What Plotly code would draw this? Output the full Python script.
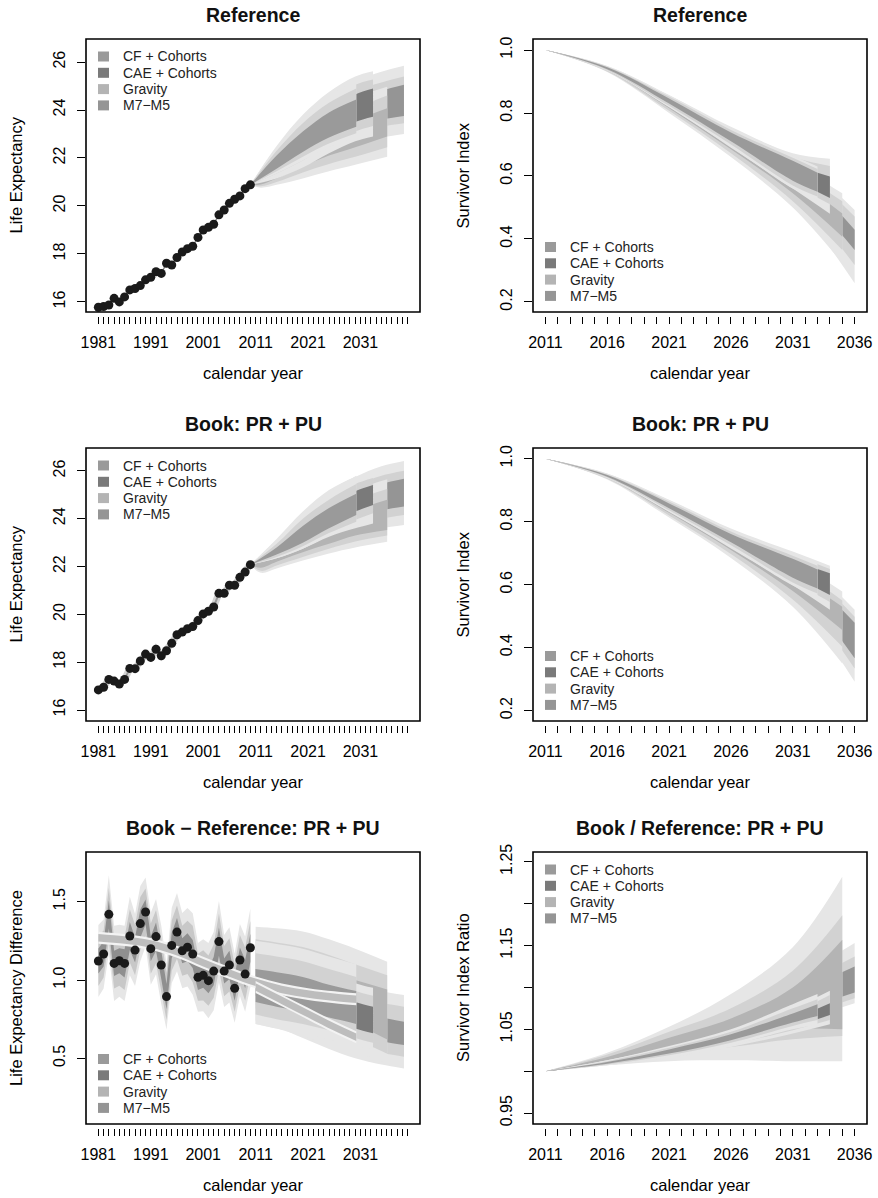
import plotly.graph_objects as go

W, H = 878, 1198
FONT = "Liberation Sans, Arial, Helvetica, sans-serif"
OUTER = "#e6e6e6"
MID = "#d2d2d2"

# ---------------- data ----------------
models = ["CF + Cohorts", "CAE + Cohorts", "Gravity", "M7\u2212M5"]
model_colors = ["#9a9a9a", "#7a7a7a", "#b4b4b4", "#959595"]

obs_year = list(range(1981, 2011))
ref_le_obs = [15.78, 15.81, 15.87, 16.15, 16.00, 16.21, 16.50, 16.56, 16.68, 16.92,
              17.03, 17.26, 17.19, 17.61, 17.54, 17.85, 18.08, 18.22, 18.32, 18.69,
              19.00, 19.11, 19.24, 19.63, 19.83, 20.11, 20.28, 20.42, 20.72, 20.88]
book_le_obs = [16.84, 16.95, 17.28, 17.21, 17.09, 17.28, 17.74, 17.73, 18.05, 18.34,
               18.20, 18.54, 18.27, 18.48, 18.79, 19.15, 19.26, 19.40, 19.49, 19.74,
               20.02, 20.13, 20.31, 20.88, 20.88, 21.22, 21.22, 21.55, 21.77, 22.08]
diff_le_obs = [1.121, 1.166, 1.419, 1.106, 1.123, 1.106, 1.281, 1.191, 1.360, 1.434,
               1.200, 1.277, 1.096, 0.894, 1.221, 1.306, 1.187, 1.209, 1.166, 1.017,
               1.030, 0.996, 1.057, 1.245, 1.057, 1.096, 0.947, 1.128, 1.038, 1.206]
# historical uncertainty half-widths of the difference
diff_hw95 = [0.23, 0.22, 0.25, 0.24, 0.23, 0.24, 0.25, 0.23, 0.24, 0.22,
             0.23, 0.24, 0.25, 0.21, 0.24, 0.25, 0.24, 0.25, 0.26, 0.22,
             0.23, 0.24, 0.25, 0.26, 0.23, 0.24, 0.22, 0.23, 0.24, 0.25]
diff_hw80 = [0.16, 0.15, 0.17, 0.16, 0.16, 0.17, 0.17, 0.16, 0.17, 0.15,
             0.16, 0.17, 0.17, 0.15, 0.16, 0.17, 0.16, 0.17, 0.18, 0.15,
             0.16, 0.16, 0.17, 0.18, 0.16, 0.17, 0.15, 0.16, 0.17, 0.17]
diff_hw50 = [0.08, 0.08, 0.09, 0.08, 0.08, 0.09, 0.09, 0.08, 0.09, 0.08,
             0.08, 0.09, 0.09, 0.08, 0.08, 0.09, 0.08, 0.09, 0.09, 0.08,
             0.08, 0.08, 0.09, 0.09, 0.08, 0.09, 0.08, 0.08, 0.09, 0.09]
trend_u_year = [1981, 1986, 1991, 1996, 2001, 2006, 2011, 2016, 2021, 2026, 2030.2]
trend_u_mid = [1.27, 1.255, 1.23, 1.18, 1.11, 1.045, 0.985, 0.94, 0.91, 0.89, 0.877]
trend_l_year = [2011, 2016, 2021, 2026, 2030.2]
trend_l_mid = [0.955, 0.87, 0.785, 0.70, 0.635]

# ---- Reference life expectancy fans ----
ref_le_m7 = dict(year=[2010, 2015, 2020, 2025, 2030, 2035, 2039.3],
                 lo95=[20.88, 21.2, 21.6, 22.1, 22.6, 22.85, 23.0],
                 lo80=[20.88, 21.4, 21.9, 22.5, 23.0, 23.3, 23.45],
                 lo50=[20.88, 21.6, 22.2, 22.85, 23.35, 23.6, 23.75],
                 hi50=[20.88, 22.1, 23.05, 23.85, 24.45, 24.8, 25.05],
                 hi80=[20.88, 22.3, 23.4, 24.2, 24.8, 25.15, 25.4],
                 hi95=[20.88, 22.45, 23.7, 24.6, 25.2, 25.6, 25.85])
ref_le_grav = dict(year=[2010, 2012, 2015, 2020, 2025, 2030, 2036.1],
                   lo95=[20.88, 20.76, 20.88, 21.15, 21.45, 21.72, 22.05],
                   lo80=[20.88, 20.82, 21.0, 21.4, 21.75, 22.05, 22.45],
                   lo50=[20.88, 20.9, 21.15, 21.65, 22.1, 22.45, 22.9],
                   hi50=[20.88, 21.2, 21.7, 22.4, 23.0, 23.55, 24.07],
                   hi80=[20.88, 21.3, 21.9, 22.75, 23.45, 24.05, 24.6],
                   hi95=[20.88, 21.4, 22.1, 23.05, 23.85, 24.5, 24.97])
ref_le_cae = dict(year=[2010, 2015, 2020, 2025, 2030, 2033.4],
                  lo95=[20.88, 21.15, 21.6, 22.2, 22.7, 22.9],
                  lo80=[20.88, 21.35, 21.9, 22.55, 23.1, 23.33],
                  lo50=[20.88, 21.55, 22.2, 22.95, 23.5, 23.72],
                  hi50=[20.88, 22.15, 23.2, 24.0, 24.65, 24.9],
                  hi80=[20.88, 22.35, 23.5, 24.4, 25.05, 25.27],
                  hi95=[20.88, 22.5, 23.8, 24.75, 25.4, 25.62])
ref_le_cf = dict(year=[2010, 2015, 2020, 2025, 2030.2],
                 lo95=[20.88, 21.35, 21.9, 22.45, 22.9],
                 lo80=[20.88, 21.45, 22.05, 22.6, 23.03],
                 lo50=[20.88, 21.55, 22.25, 22.85, 23.3],
                 hi50=[20.88, 22.1, 23.1, 23.9, 24.44],
                 hi80=[20.88, 22.3, 23.45, 24.3, 24.9],
                 hi95=[20.88, 22.45, 23.7, 24.6, 25.25])

# ---- Book life expectancy fans ----
book_le_m7 = dict(year=[2010, 2015, 2020, 2025, 2030, 2035, 2039.3],
                  lo95=[22.08, 22.3, 22.6, 23.0, 23.35, 23.6, 23.74],
                  lo80=[22.08, 22.4, 22.8, 23.3, 23.75, 24.0, 24.16],
                  lo50=[22.08, 22.5, 23.0, 23.6, 24.05, 24.35, 24.51],
                  hi50=[22.08, 22.8, 23.7, 24.5, 25.05, 25.45, 25.67],
                  hi80=[22.08, 22.95, 24.0, 24.85, 25.4, 25.8, 26.01],
                  hi95=[22.08, 23.1, 24.25, 25.15, 25.75, 26.2, 26.42])
book_le_grav = dict(year=[2010, 2012, 2015, 2020, 2025, 2030, 2036.1],
                    lo95=[22.08, 21.74, 21.92, 22.25, 22.55, 22.8, 23.04],
                    lo80=[22.08, 21.82, 22.05, 22.4, 22.75, 23.05, 23.3],
                    lo50=[22.08, 21.95, 22.2, 22.6, 22.95, 23.3, 23.53],
                    hi50=[22.08, 22.2, 22.55, 23.2, 23.85, 24.35, 24.79],
                    hi80=[22.08, 22.3, 22.8, 23.55, 24.25, 24.8, 25.25],
                    hi95=[22.08, 22.4, 22.95, 23.8, 24.6, 25.2, 25.65])
book_le_cae = dict(year=[2010, 2015, 2020, 2025, 2030, 2033.4],
                   lo95=[22.08, 22.35, 22.75, 23.25, 23.6, 23.8],
                   lo80=[22.08, 22.45, 22.95, 23.5, 23.95, 24.23],
                   lo50=[22.08, 22.55, 23.15, 23.75, 24.3, 24.58],
                   hi50=[22.08, 22.85, 23.8, 24.6, 25.15, 25.41],
                   hi80=[22.08, 23.0, 24.05, 24.9, 25.45, 25.7],
                   hi95=[22.08, 23.15, 24.3, 25.2, 25.75, 25.96])
book_le_cf = dict(year=[2010, 2015, 2020, 2025, 2030.2],
                  lo95=[22.08, 22.35, 22.75, 23.3, 23.75],
                  lo80=[22.08, 22.4, 22.85, 23.4, 23.88],
                  lo50=[22.08, 22.5, 23.0, 23.6, 24.16],
                  hi50=[22.08, 22.8, 23.7, 24.45, 25.05],
                  hi80=[22.08, 22.95, 24.0, 24.8, 25.45],
                  hi95=[22.08, 23.1, 24.2, 25.1, 25.8])

# ---- Reference survivor index fans ----
ref_si_m7 = dict(year=[2011, 2016, 2021, 2026, 2031, 2036],
                 lo95=[1.0, 0.932, 0.81, 0.675, 0.52, 0.259],
                 lo80=[1.0, 0.935, 0.818, 0.69, 0.55, 0.317],
                 lo50=[1.0, 0.938, 0.825, 0.70, 0.575, 0.365],
                 hi50=[1.0, 0.944, 0.843, 0.73, 0.625, 0.429],
                 hi80=[1.0, 0.946, 0.849, 0.742, 0.645, 0.471],
                 hi95=[1.0, 0.948, 0.853, 0.75, 0.66, 0.492])
ref_si_grav = dict(year=[2011, 2016, 2021, 2026, 2031, 2035],
                   lo95=[1.0, 0.93, 0.80, 0.66, 0.50, 0.323],
                   lo80=[1.0, 0.932, 0.807, 0.672, 0.52, 0.365],
                   lo50=[1.0, 0.935, 0.815, 0.685, 0.545, 0.407],
                   hi50=[1.0, 0.942, 0.835, 0.715, 0.595, 0.481],
                   hi80=[1.0, 0.945, 0.845, 0.73, 0.62, 0.52],
                   hi95=[1.0, 0.947, 0.85, 0.742, 0.64, 0.545])
ref_si_cae = dict(year=[2011, 2016, 2021, 2026, 2031, 2034],
                  lo95=[1.0, 0.935, 0.82, 0.69, 0.56, 0.48],
                  lo80=[1.0, 0.937, 0.825, 0.70, 0.575, 0.51],
                  lo50=[1.0, 0.939, 0.83, 0.71, 0.59, 0.53],
                  hi50=[1.0, 0.945, 0.847, 0.74, 0.64, 0.598],
                  hi80=[1.0, 0.947, 0.853, 0.75, 0.66, 0.632],
                  hi95=[1.0, 0.949, 0.857, 0.756, 0.672, 0.655])
ref_si_cf = dict(year=[2011, 2016, 2021, 2026, 2031, 2033],
                 lo95=[1.0, 0.934, 0.818, 0.693, 0.56, 0.525],
                 lo80=[1.0, 0.936, 0.823, 0.70, 0.57, 0.535],
                 lo50=[1.0, 0.939, 0.83, 0.71, 0.585, 0.55],
                 hi50=[1.0, 0.945, 0.846, 0.738, 0.648, 0.61],
                 hi80=[1.0, 0.947, 0.852, 0.746, 0.658, 0.622],
                 hi95=[1.0, 0.949, 0.856, 0.752, 0.665, 0.63])

# ---- Book survivor index fans ----
book_si_m7 = dict(year=[2011, 2016, 2021, 2026, 2031, 2036],
                  lo95=[1.0, 0.936, 0.826, 0.705, 0.56, 0.292],
                  lo80=[1.0, 0.938, 0.832, 0.715, 0.585, 0.334],
                  lo50=[1.0, 0.941, 0.838, 0.725, 0.605, 0.366],
                  hi50=[1.0, 0.948, 0.856, 0.755, 0.66, 0.479],
                  hi80=[1.0, 0.95, 0.862, 0.765, 0.68, 0.498],
                  hi95=[1.0, 0.952, 0.866, 0.772, 0.695, 0.52])
book_si_grav = dict(year=[2011, 2016, 2021, 2026, 2031, 2035],
                    lo95=[1.0, 0.934, 0.813, 0.685, 0.53, 0.35],
                    lo80=[1.0, 0.936, 0.82, 0.697, 0.553, 0.403],
                    lo50=[1.0, 0.939, 0.828, 0.71, 0.58, 0.456],
                    hi50=[1.0, 0.946, 0.848, 0.74, 0.632, 0.53],
                    hi80=[1.0, 0.949, 0.857, 0.753, 0.655, 0.55],
                    hi95=[1.0, 0.951, 0.862, 0.765, 0.675, 0.578])
book_si_cae = dict(year=[2011, 2016, 2021, 2026, 2031, 2034],
                   lo95=[1.0, 0.939, 0.833, 0.715, 0.598, 0.52],
                   lo80=[1.0, 0.941, 0.838, 0.725, 0.612, 0.545],
                   lo50=[1.0, 0.943, 0.843, 0.735, 0.628, 0.567],
                   hi50=[1.0, 0.949, 0.86, 0.763, 0.678, 0.636],
                   hi80=[1.0, 0.951, 0.866, 0.772, 0.695, 0.65],
                   hi95=[1.0, 0.953, 0.87, 0.778, 0.705, 0.66])
book_si_cf = dict(year=[2011, 2016, 2021, 2026, 2031, 2033],
                  lo95=[1.0, 0.938, 0.831, 0.718, 0.597, 0.562],
                  lo80=[1.0, 0.94, 0.836, 0.725, 0.607, 0.572],
                  lo50=[1.0, 0.943, 0.843, 0.735, 0.622, 0.588],
                  hi50=[1.0, 0.948, 0.858, 0.761, 0.682, 0.648],
                  hi80=[1.0, 0.95, 0.864, 0.769, 0.692, 0.66],
                  hi95=[1.0, 0.952, 0.868, 0.775, 0.70, 0.668])

# ---- Book - Reference life expectancy fans ----
diff_le_m7 = dict(year=[2011, 2015, 2020, 2025, 2030, 2035, 2039.3],
                  lo95=[0.74, 0.70, 0.63, 0.56, 0.50, 0.46, 0.436],
                  lo80=[0.82, 0.78, 0.71, 0.64, 0.58, 0.535, 0.51],
                  lo50=[0.90, 0.86, 0.79, 0.72, 0.66, 0.61, 0.585],
                  hi50=[1.04, 1.00, 0.93, 0.86, 0.80, 0.76, 0.734],
                  hi80=[1.12, 1.08, 1.02, 0.96, 0.90, 0.855, 0.83],
                  hi95=[1.20, 1.16, 1.10, 1.04, 0.98, 0.93, 0.904])
diff_le_grav = dict(year=[2011, 2015, 2020, 2025, 2030, 2036.1],
                    lo95=[0.72, 0.69, 0.64, 0.59, 0.54, 0.47],
                    lo80=[0.82, 0.78, 0.73, 0.68, 0.62, 0.53],
                    lo50=[0.92, 0.88, 0.83, 0.78, 0.72, 0.62],
                    hi50=[1.16, 1.14, 1.10, 1.05, 1.00, 0.94],
                    hi80=[1.26, 1.24, 1.21, 1.16, 1.10, 1.03],
                    hi95=[1.34, 1.33, 1.31, 1.26, 1.20, 1.117])
diff_le_cae = dict(year=[2011, 2015, 2020, 2025, 2030, 2033.4],
                   lo95=[0.78, 0.74, 0.69, 0.63, 0.58, 0.56],
                   lo80=[0.84, 0.80, 0.75, 0.69, 0.63, 0.60],
                   lo50=[0.90, 0.86, 0.81, 0.75, 0.69, 0.66],
                   hi50=[1.07, 1.03, 0.98, 0.92, 0.86, 0.83],
                   hi80=[1.14, 1.10, 1.05, 0.99, 0.93, 0.90],
                   hi95=[1.20, 1.15, 1.10, 1.04, 0.98, 0.95])
diff_le_cf = dict(year=[2011, 2015, 2020, 2025, 2030.2],
                  lo95=[0.72, 0.69, 0.66, 0.62, 0.58],
                  lo80=[0.78, 0.75, 0.72, 0.68, 0.64],
                  lo50=[0.86, 0.83, 0.80, 0.76, 0.72],
                  hi50=[1.07, 1.05, 1.02, 0.97, 0.93],
                  hi80=[1.17, 1.15, 1.12, 1.07, 1.02],
                  hi95=[1.25, 1.23, 1.20, 1.15, 1.10])

# ---- Book / Reference survivor index ratio fans ----
ratio_si_m7 = dict(year=[2011, 2016, 2021, 2026, 2031, 2036],
                   lo95=[1.0, 1.008, 1.02, 1.038, 1.058, 1.081],
                   lo80=[1.0, 1.01, 1.023, 1.042, 1.063, 1.087],
                   lo50=[1.0, 1.012, 1.027, 1.048, 1.07, 1.094],
                   hi50=[1.0, 1.016, 1.036, 1.062, 1.092, 1.125],
                   hi80=[1.0, 1.018, 1.04, 1.068, 1.10, 1.137],
                   hi95=[1.0, 1.02, 1.045, 1.075, 1.11, 1.153])
ratio_si_grav = dict(year=[2011, 2016, 2021, 2026, 2031, 2035],
                     lo95=[1.0, 1.007, 1.012, 1.013, 1.012, 1.012],
                     lo80=[1.0, 1.009, 1.02, 1.029, 1.038, 1.042],
                     lo50=[1.0, 1.012, 1.026, 1.037, 1.05, 1.05],
                     hi50=[1.0, 1.017, 1.04, 1.063, 1.10, 1.157],
                     hi80=[1.0, 1.02, 1.047, 1.075, 1.12, 1.186],
                     hi95=[1.0, 1.022, 1.053, 1.092, 1.148, 1.232])
ratio_si_cae = dict(year=[2011, 2016, 2021, 2026, 2031, 2034],
                    lo95=[1.0, 1.007, 1.016, 1.029, 1.045, 1.056],
                    lo80=[1.0, 1.008, 1.018, 1.032, 1.049, 1.061],
                    lo50=[1.0, 1.009, 1.02, 1.035, 1.053, 1.067],
                    hi50=[1.0, 1.011, 1.025, 1.042, 1.063, 1.081],
                    hi80=[1.0, 1.012, 1.027, 1.045, 1.07, 1.091],
                    hi95=[1.0, 1.013, 1.029, 1.048, 1.075, 1.096])
ratio_si_cf = dict(year=[2011, 2016, 2021, 2026, 2031, 2033],
                   lo95=[1.0, 1.007, 1.017, 1.031, 1.05, 1.055],
                   lo80=[1.0, 1.008, 1.019, 1.034, 1.054, 1.061],
                   lo50=[1.0, 1.009, 1.021, 1.037, 1.058, 1.066],
                   hi50=[1.0, 1.011, 1.026, 1.044, 1.069, 1.08],
                   hi80=[1.0, 1.012, 1.028, 1.047, 1.075, 1.086],
                   hi95=[1.0, 1.013, 1.03, 1.05, 1.08, 1.092])

# axis ticks
le_tick_years = list(range(1981, 2041))
le_tick_labels = ["1981", "1991", "2001", "2011", "2021", "2031"]
si_tick_years = list(range(2011, 2037))
si_tick_labels = ["2011", "2016", "2021", "2026", "2031", "2036"]

titles = ["Reference", "Reference", "Book: PR + PU", "Book: PR + PU",
          "Book \u2212 Reference: PR + PU", "Book / Reference: PR + PU"]
ytitles = ["Life Expectancy", "Survivor Index", "Life Expectancy", "Survivor Index",
           "Life Expectancy Difference", "Survivor Index Ratio"]

# ---------------- layout geometry (pixels) ----------------
BOX_X = {1: (86, 420), 2: (533, 867)}
BOX_Y = {1: (39, 312), 2: (448, 721), 3: (852, 1124)}
YRANGE = {1: [15.58, 26.96], 2: [0.168, 1.035], 3: [15.54, 26.96],
          4: [0.167, 1.034], 5: [0.081, 1.817], 6: [0.937, 1.2616]}
LE_XR = [1978.64, 2042.36]
SI_XR = [2010.0, 2037.0]


def rc(i):
    return (i - 1) // 2 + 1, (i - 1) % 2 + 1


def axn(i):
    return ("x", "y") if i == 1 else (f"x{i}", f"y{i}")


fig = go.Figure()


def add_band(i, x, lo, hi, color, shape="spline"):
    xa, ya = axn(i)
    fig.add_trace(go.Scatter(x=x, y=lo, xaxis=xa, yaxis=ya, mode="lines",
                             line=dict(width=0, shape=shape, color=color),
                             hoverinfo="skip", showlegend=False))
    fig.add_trace(go.Scatter(x=x, y=hi, xaxis=xa, yaxis=ya, mode="lines",
                             line=dict(width=0, shape=shape, color=color),
                             fill="tonexty", fillcolor=color,
                             hoverinfo="skip", showlegend=False))


def add_fan(i, f, color):
    add_band(i, f["year"], f["lo95"], f["hi95"], OUTER)
    add_band(i, f["year"], f["lo80"], f["hi80"], MID)
    add_band(i, f["year"], f["lo50"], f["hi50"], color)


def add_dots(i, y, line=None):
    xa, ya = axn(i)
    if line is not None:
        for w, c in line:
            fig.add_trace(go.Scatter(x=obs_year, y=y, xaxis=xa, yaxis=ya, mode="lines",
                                     line=dict(width=w, color=c), hoverinfo="skip",
                                     showlegend=False))
    fig.add_trace(go.Scatter(x=obs_year, y=y, xaxis=xa, yaxis=ya, mode="markers",
                             marker=dict(size=9, color="#1a1a1a"), hoverinfo="skip",
                             showlegend=False))


# order of drawing: M7-M5, Gravity, CAE, CF
fan_sets = {
    1: [ref_le_m7, ref_le_grav, ref_le_cae, ref_le_cf],
    2: [ref_si_m7, ref_si_grav, ref_si_cae, ref_si_cf],
    3: [book_le_m7, book_le_grav, book_le_cae, book_le_cf],
    4: [book_si_m7, book_si_grav, book_si_cae, book_si_cf],
    5: [diff_le_m7, diff_le_grav, diff_le_cae, diff_le_cf],
    6: [ratio_si_m7, ratio_si_grav, ratio_si_cae, ratio_si_cf],
}
draw_colors = [model_colors[3], model_colors[2], model_colors[1], model_colors[0]]

# panel 5 historical fans
lo = [c - h for c, h in zip(diff_le_obs, diff_hw95)]
hi = [c + h for c, h in zip(diff_le_obs, diff_hw95)]
add_band(5, obs_year, lo, hi, OUTER, "linear")
lo = [c - h for c, h in zip(diff_le_obs, diff_hw80)]
hi = [c + h for c, h in zip(diff_le_obs, diff_hw80)]
add_band(5, obs_year, lo, hi, "#c8c8c8", "linear")
lo = [c - h for c, h in zip(diff_le_obs, diff_hw50)]
hi = [c + h for c, h in zip(diff_le_obs, diff_hw50)]
add_band(5, obs_year, lo, hi, "#8f8f8f", "linear")

for i in range(1, 7):
    for f, c in zip(fan_sets[i], draw_colors):
        add_fan(i, f, c)

# smooth trend bands in panel 5
for yrs, mid in [(trend_u_year, trend_u_mid), (trend_l_year, trend_l_mid)]:
    add_band(5, yrs, [m - 0.038 for m in mid], [m + 0.038 for m in mid], "#f3f3f3")
    add_band(5, yrs, [m - 0.024 for m in mid], [m + 0.024 for m in mid], "#bdbdbd")

add_dots(1, ref_le_obs, line=[(1.5, "#8a8a8a")])
add_dots(3, book_le_obs, line=[(7, "#d4d4d4"), (2, "#9a9a9a")])
add_dots(5, diff_le_obs)

# ---------------- axes ----------------
layout = dict(width=W, height=H, autosize=False, margin=dict(l=0, r=0, t=0, b=0, pad=0),
              paper_bgcolor="white", plot_bgcolor="white", showlegend=False,
              template="none",
              font=dict(family=FONT, color="black", size=16))
shapes = []
annotations = []
tickfont = dict(family=FONT, size=16, color="black")

for i in range(1, 7):
    r, c = rc(i)
    x0, x1 = BOX_X[c]
    y0, y1 = BOX_Y[r]
    xkey = "xaxis" if i == 1 else f"xaxis{i}"
    ykey = "yaxis" if i == 1 else f"yaxis{i}"
    xa, ya = axn(i)
    is_le = (c == 1)
    tv = le_tick_years if is_le else si_tick_years
    labs = le_tick_labels if is_le else si_tick_labels
    tt = [str(t) if str(t) in labs else "" for t in tv]
    layout[xkey] = dict(domain=[x0 / W, x1 / W], range=LE_XR if is_le else SI_XR,
                        anchor="free", position=1 - (y1 + 4) / H, automargin=False,
                        tickmode="array", tickvals=tv, ticktext=tt,
                        ticks="outside", ticklen=7, tickwidth=1, tickcolor="black",
                        showline=False, showgrid=False, zeroline=False,
                        tickfont=tickfont, ticklabelstandoff=5, tickangle=0)
    if i in (1, 3):
        yv = [16, 18, 20, 22, 24, 26]
        yt = [str(v) for v in yv]
    elif i in (2, 4):
        yv = [0.2, 0.4, 0.6, 0.8, 1.0]
        yt = ["0.2", "0.4", "0.6", "0.8", "1.0"]
    elif i == 5:
        yv = [0.5, 1.0, 1.5]
        yt = ["0.5", "1.0", "1.5"]
    else:
        yv = [0.95, 1.0, 1.05, 1.10, 1.15, 1.20, 1.25]
        yt = ["0.95", "", "1.05", "", "1.15", "", "1.25"]
    layout[ykey] = dict(domain=[1 - y1 / H, 1 - y0 / H], range=YRANGE[i],
                        anchor=xa, automargin=False, tickmode="array", tickvals=yv,
                        ticktext=yt,
                        ticks="outside", ticklen=8, tickwidth=1, tickcolor="black",
                        showline=False, showgrid=False, zeroline=False,
                        tickfont=tickfont, tickangle=-90, ticklabelstandoff=6)
    # box
    shapes.append(dict(type="rect", xref=f"{xa} domain", yref=f"{ya} domain",
                       x0=0, x1=1, y0=0, y1=1, layer="above",
                       line=dict(color="black", width=1.6)))
    # title
    annotations.append(dict(text=f"<b>{titles[i-1]}</b>", xref="paper", yref="paper",
                            x=(x0 + x1) / 2 / W, y=1 - (y0 - 24) / H,
                            xanchor="center", yanchor="middle", showarrow=False,
                            font=dict(family=FONT, size=19.5, color="#111")))
    annotations.append(dict(text="calendar year", xref="paper", yref="paper",
                            x=(x0 + x1) / 2 / W, y=1 - (y1 + 61) / H,
                            xanchor="center", yanchor="middle", showarrow=False,
                            font=dict(family=FONT, size=16.5, color="black")))
    annotations.append(dict(text=ytitles[i-1], xref="paper", yref="paper",
                            x=(x0 - 70) / W, y=1 - (y0 + y1) / 2 / H, textangle=-90,
                            xanchor="center", yanchor="middle", showarrow=False,
                            font=dict(family=FONT, size=16.5, color="black")))
    # legend
    bh = y1 - y0
    bw = x1 - x0
    top_legend = i in (1, 3, 6)
    for k, (name, col) in enumerate(zip(models, model_colors)):
        if top_legend:
            cy = 1 - (17.5 + 16.3 * k) / bh
        else:
            cy = (65 - 16.3 * k) / bh
        shapes.append(dict(type="rect", xref=f"{xa} domain", yref=f"{ya} domain",
                           x0=12 / bw, x1=23 / bw, y0=cy - 5 / bh, y1=cy + 5 / bh,
                           fillcolor=col, line=dict(width=0), layer="above"))
        annotations.append(dict(text=name, xref=f"{xa} domain", yref=f"{ya} domain",
                                x=34.5 / bw, y=cy, xanchor="left", yanchor="middle",
                                showarrow=False,
                                font=dict(family=FONT, size=14, color="#222")))

layout["shapes"] = shapes
layout["annotations"] = annotations
fig.update_layout(**layout)
fig.write_html("out.html", config={"displayModeBar": False},
               post_script="document.body.style.margin='0';")
